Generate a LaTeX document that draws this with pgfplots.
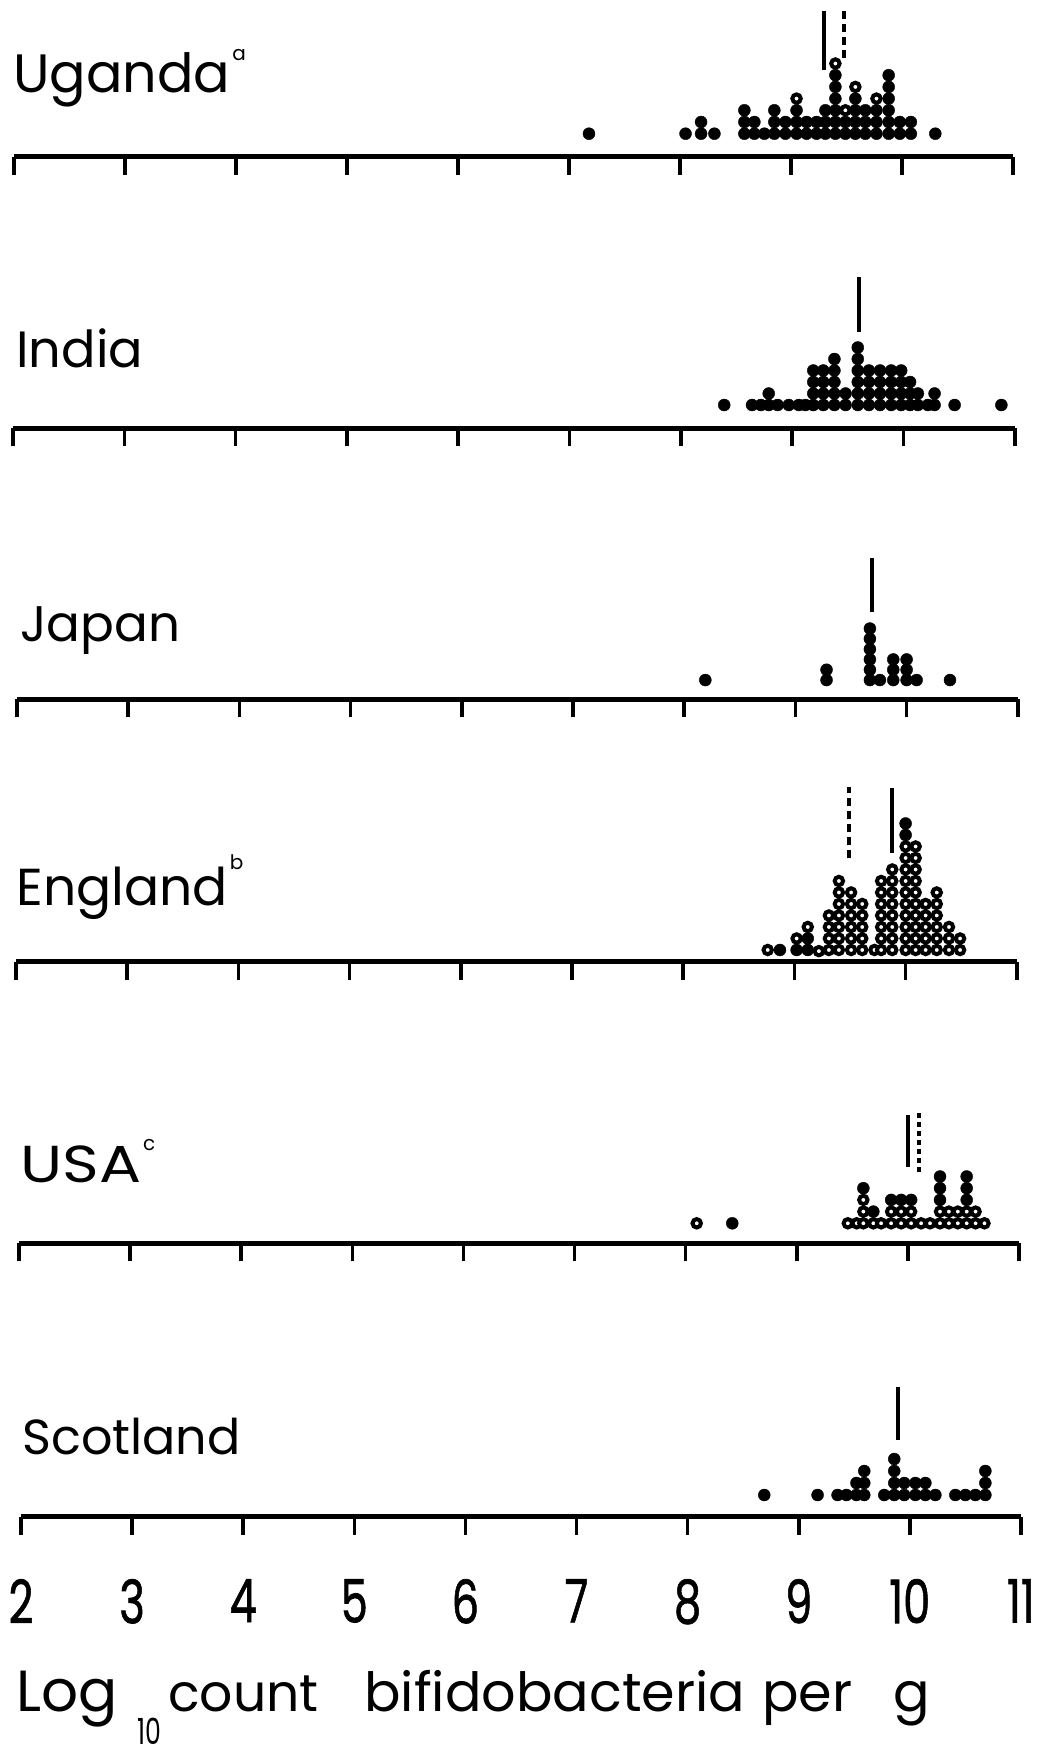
\documentclass[border=0pt]{standalone}
\usepackage{fontspec}
\setmainfont{Poppins}
\usepackage{graphicx}
\usepackage{pgfplots}
\pgfplotsset{compat=1.18}
\newcommand{\tl}[1]{\scalebox{0.72}[1]{\addfontfeature{FakeBold=1.2}#1}}
\pgfplotsset{
  panel/.style={
    scale only axis, clip=false,
    xmin=2, xmax=11,
    axis x line=bottom, axis y line=none,
    axis line style={-, line width=2.5pt},
    xtick={2,...,11}, ytick=\empty,
    tick align=outside,
    major tick length=9pt,
    tick style={black, line width=1.8pt},
    xticklabels={},
    anchor=south west,
  },
  dotF/.style={only marks, mark=*, mark size=3.0pt, mark options={fill=black, draw=black, line width=0.2pt}},
  dotO/.style={only marks, mark=*, mark size=2.1pt, mark options={fill=white, draw=black, line width=2.0pt}},
  meanS/.style={no marks, line width=2pt, black},
  meanD/.style={no marks, line width=2pt, black, dash pattern=on 4pt off 2.5pt},
}
\begin{document}
\begin{tikzpicture}
% ---------------- Uganda
\begin{axis}[panel, at={(7pt,-78.35pt)}, x=55.5pt, y=5.85pt, ymin=-0.966, ymax=13]
\addplot[dotF] coordinates {
(7.18,1) (8.05,1) (8.19,1) (8.19,2) (8.31,1)
(8.58,1) (8.58,2) (8.58,3) (8.67,1) (8.67,2) (8.76,1)
(8.85,1) (8.85,2) (8.85,3) (8.95,1) (8.95,2)
(9.05,1) (9.05,2) (9.05,3) (9.14,1) (9.14,2) (9.23,1) (9.23,2)
(9.31,1) (9.31,2) (9.31,3)
(9.40,1) (9.40,2) (9.40,3) (9.40,4) (9.40,5) (9.40,6)
(9.49,1) (9.49,2)
(9.58,1) (9.58,2) (9.58,3) (9.58,4)
(9.67,1) (9.67,2) (9.67,3)
(9.77,1) (9.77,2) (9.77,3)
(9.88,1) (9.88,2) (9.88,3) (9.88,4) (9.88,5) (9.88,6)
(9.98,1) (9.98,2) (10.08,1) (10.08,2) (10.30,1)};
\addplot[dotO] coordinates {(9.05,4) (9.40,7) (9.49,3) (9.58,5) (9.77,4)};
\addplot[meanS] coordinates {(9.30,6.44) (9.30,11.49)};
\addplot[meanD] coordinates {(9.48,7.47) (9.48,11.66)};
\end{axis}
% ---------------- India
\begin{axis}[panel, at={(6.5pt,-214pt)}, x=55.65pt, y=5.75pt, ymin=-1, ymax=13]
\addplot[dotF] coordinates {
(8.39,1) (8.64,1) (8.72,1) (8.79,1) (8.79,2) (8.87,1) (8.97,1) (9.06,1) (9.12,1)
(9.19,1) (9.19,2) (9.19,3) (9.19,4)
(9.28,1) (9.28,2) (9.28,3) (9.28,4)
(9.38,1) (9.38,2) (9.38,3) (9.38,4) (9.38,5)
(9.48,1) (9.48,2)
(9.59,1) (9.59,2) (9.59,3) (9.59,4) (9.59,5) (9.59,6)
(9.69,1) (9.69,2) (9.69,3) (9.69,4)
(9.79,1) (9.79,2) (9.79,3) (9.79,4)
(9.89,1) (9.89,2) (9.89,3) (9.89,4)
(9.98,1) (9.98,2) (9.98,3) (9.98,4)
(10.06,1) (10.06,2) (10.06,3)
(10.13,1) (10.13,2) (10.22,1) (10.28,1) (10.28,2)
(10.46,1) (10.88,1)};
\addplot[meanS] coordinates {(9.60,7.35) (9.60,12.13)};
\end{axis}
% ---------------- Japan
\begin{axis}[panel, at={(8.5pt,-349.65pt)}, x=55.6pt, y=5.15pt, ymin=-0.87, ymax=14]
\addplot[dotF] coordinates {
(8.19,1) (9.28,1) (9.28,2)
(9.67,1) (9.67,2) (9.67,3) (9.67,4) (9.67,5) (9.67,6)
(9.76,1) (9.88,1) (9.88,2) (9.88,3) (10.00,1) (10.00,2) (10.00,3)
(10.09,1) (10.39,1)};
\addplot[meanS] coordinates {(9.69,7.58) (9.69,12.82)};
\end{axis}
% ---------------- England
\begin{axis}[panel, at={(8pt,-480.85pt)}, x=55.6pt, y=5.75pt, ymin=-0.02, ymax=16]
\addplot[dotF] coordinates {(8.87,1) (9.02,1) (9.12,1) (9.12,2) (10.00,11) (10.00,12)};
\addplot[dotO] coordinates {
(8.76,1) (9.02,2) (9.12,3) (9.22,0.9)
(9.31,1) (9.31,2) (9.31,3) (9.31,4)
(9.40,1) (9.40,2) (9.40,3) (9.40,4) (9.40,5) (9.40,6) (9.40,7)
(9.51,1) (9.51,2) (9.51,3) (9.51,4) (9.51,5) (9.51,6)
(9.61,1) (9.61,2) (9.61,3) (9.61,4) (9.61,5)
(9.72,1)
(9.78,1) (9.78,2) (9.78,3) (9.78,4) (9.78,5) (9.78,6) (9.78,7)
(9.88,1) (9.88,2) (9.88,3) (9.88,4) (9.88,5) (9.88,6) (9.88,7) (9.88,8)
(10.00,1) (10.00,2) (10.00,3) (10.00,4) (10.00,5) (10.00,6) (10.00,7) (10.00,8) (10.00,9) (10.00,10)
(10.09,1) (10.09,2) (10.09,3) (10.09,4) (10.09,5) (10.09,6) (10.09,7) (10.09,8) (10.09,9) (10.09,10)
(10.18,1) (10.18,2) (10.18,3) (10.18,4) (10.18,5)
(10.28,1) (10.28,2) (10.28,3) (10.28,4) (10.28,5) (10.28,6)
(10.39,1) (10.39,2) (10.39,3)
(10.49,1) (10.49,2)};
\addplot[meanD] coordinates {(9.49,8.97) (9.49,15.2)};
\addplot[meanS] coordinates {(9.88,9.43) (9.88,15.09)};
\end{axis}
% ---------------- USA
\begin{axis}[panel, at={(9.5pt,-621.65pt)}, x=55.55pt, y=5.85pt, ymin=-0.71, ymax=12]
\addplot[dotF] coordinates {(8.42,1) (9.60,4) (9.69,2) (9.85,3) (9.94,3) (10.03,3)
(10.29,3) (10.29,4) (10.29,5) (10.53,3) (10.53,4) (10.53,5)};
\addplot[dotO] coordinates {
(8.10,1) (9.46,1) (9.54,1) (9.60,1) (9.60,2) (9.60,3) (9.69,1) (9.76,1)
(9.85,1) (9.85,2) (9.94,1) (9.94,2) (10.03,1) (10.03,2) (10.12,1) (10.20,1)
(10.29,1) (10.29,2) (10.37,1) (10.37,2) (10.45,1) (10.45,2)
(10.53,1) (10.53,2) (10.61,1) (10.61,2) (10.69,1)};
\addplot[meanS] coordinates {(10.00,5.85) (10.00,10.23)};
\addplot[no marks, line width=2pt, black, dash pattern=on 2.5pt off 2pt] coordinates {(10.10,5.41) (10.10,10.4)};
\end{axis}
% ---------------- Scotland
\begin{axis}[panel, at={(10.5pt,-758.35pt)}, x=55.55pt, y=6pt, ymin=-0.81, ymax=12,
  xticklabels={\tl{2},\tl{3},\tl{4},\tl{5},\tl{6},\tl{7},\tl{8},\tl{9},\tl{10},\tl{11}},
  xticklabel style={font=\fontsize{30pt}{30pt}\selectfont, anchor=north, inner sep=0pt, yshift=-22pt}]
\addplot[dotF] coordinates {
(8.69,1) (9.17,1) (9.35,1) (9.43,1) (9.52,1) (9.52,2) (9.59,1) (9.59,2) (9.59,3)
(9.77,1) (9.86,1) (9.86,2) (9.86,3) (9.86,4) (9.95,1) (9.95,2) (10.05,1) (10.05,2)
(10.14,1) (10.14,2) (10.23,1) (10.41,1) (10.50,1) (10.59,1)
(10.68,1) (10.68,2) (10.68,3)};
\addplot[meanS] coordinates {(9.89,5.58) (9.89,10.02)};
\end{axis}
% ---------------- labels
\node[anchor=base west, inner sep=0pt, font=\fontsize{27pt}{27pt}\selectfont] at (6.5pt,-46pt) {Uganda\hspace{1pt}\raisebox{16pt}{\fontsize{10pt}{10pt}\selectfont a}};
\node[anchor=base west, inner sep=0pt, font=\fontsize{25.5pt}{25.5pt}\selectfont] at (8pt,-183.5pt) {India};
\node[anchor=base west, inner sep=0pt, font=\fontsize{25pt}{25pt}\selectfont] at (10pt,-320.5pt) {Japan};
\node[anchor=base west, inner sep=0pt, font=\fontsize{26pt}{26pt}\selectfont] at (8pt,-452.5pt) {England\hspace{1pt}\raisebox{18pt}{\fontsize{10pt}{10pt}\selectfont b}};
\node[anchor=base west, inner sep=0pt, font=\fontsize{26pt}{26pt}\selectfont] at (10pt,-591pt) {\scalebox{1.2}[1]{USA}\hspace{1pt}\raisebox{16pt}{\fontsize{10pt}{10pt}\selectfont c}};
\node[anchor=base west, inner sep=0pt, font=\fontsize{24.6pt}{24.6pt}\selectfont] at (11pt,-727pt) {Scotland};
% axis title
\node[anchor=base west, inner sep=0pt, font=\fontsize{29pt}{29pt}\selectfont] at (8pt,-855.5pt) {Log};
\node[anchor=base west, inner sep=0pt, font=\fontsize{18pt}{18pt}\selectfont] at (68.5pt,-872pt) {\scalebox{0.7}[1]{10}};
\node[anchor=base west, inner sep=0pt, font=\fontsize{26pt}{26pt}\selectfont] at (84pt,-855.5pt) {count};
\node[anchor=base west, inner sep=0pt, font=\fontsize{27pt}{27pt}\selectfont] at (182pt,-855.5pt) {bifidobacteria};
\node[anchor=base west, inner sep=0pt, font=\fontsize{27pt}{27pt}\selectfont] at (381pt,-855.5pt) {per};
\node[anchor=base west, inner sep=0pt, font=\fontsize{27pt}{27pt}\selectfont] at (446.5pt,-855.5pt) {g};
\pgfresetboundingbox
\path[use as bounding box] (0,0) rectangle (522pt,-878pt);
\end{tikzpicture}
\end{document}
